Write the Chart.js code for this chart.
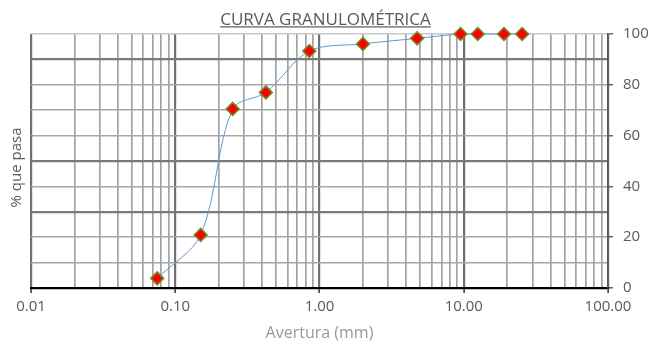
<!DOCTYPE html>
<html>
<head>
<meta charset="utf-8">
<title>Curva granulométrica</title>
<script src="https://cdn.jsdelivr.net/npm/chart.js@4.4.1/dist/chart.umd.min.js"></script>
<style>
  html, body { margin: 0; padding: 0; background: #ffffff; }
  #wrap { width: 654px; height: 344px; }
</style>
</head>
<body>
<div id="wrap"><canvas id="chart" width="654" height="344"></canvas></div>
<script>
// Sieve openings (mm) and cumulative percent passing
const sieveOpenings = [0.075, 0.15, 0.25, 0.425, 0.85, 2.0, 4.75, 9.5, 12.5, 19.0, 25.4];
const percentPassing = [3.8, 20.9, 70.5, 77.0, 93.3, 96.1, 98.3, 100, 100, 100, 100];

// Axis ranges and labelled ticks
const xDecades = [0.01, 0.1, 1, 10, 100];
const yLabelledTicks = [0, 20, 40, 60, 80, 100];
const yHeavyLines = [90, 50, 30];

const chartTitle = 'CURVA GRANULOMÉTRICA';
const xTitle = 'Avertura (mm)';
const yTitle = '% que pasa';

const FONT = "'Open Sans', 'Liberation Sans', sans-serif";

// Log-paper grid: every integer multiple within each decade
function logGridTicks() {
  const ticks = [];
  for (let d = 0; d < xDecades.length - 1; d++) {
    for (let m = 1; m < 10; m++) {
      ticks.push({ value: +(xDecades[d] * m).toPrecision(3) });
    }
  }
  ticks.push({ value: xDecades[xDecades.length - 1] });
  return ticks;
}
const isDecade = v => xDecades.some(d => Math.abs(d - v) < d * 1e-6);

// Underlined chart title and the rotated y-axis caption
const chartTexts = {
  id: 'chartTexts',
  afterDraw(chart) {
    const ctx = chart.ctx;
    const area = chart.chartArea;
    ctx.save();
    ctx.font = '17px ' + FONT;
    ctx.fillStyle = '#595959';
    ctx.textAlign = 'center';
    ctx.textBaseline = 'alphabetic';
    const cx = 325.5, by = 25;
    ctx.fillText(chartTitle, cx, by);
    const w = ctx.measureText(chartTitle).width;
    ctx.fillRect(cx - w / 2, by + 1.3, w, 1.2);

    ctx.translate(area.left - 14, (area.top + area.bottom) / 2 + 6.5);
    ctx.rotate(-Math.PI / 2);
    ctx.font = '15px ' + FONT;
    ctx.textBaseline = 'middle';
    ctx.fillText(yTitle, 0, 0);
    ctx.restore();
  }
};

new Chart(document.getElementById('chart'), {
  type: 'scatter',
  data: {
    datasets: [{
      data: sieveOpenings.map((x, i) => ({ x: x, y: percentPassing[i] })),
      showLine: true,
      borderColor: '#5B9BD5',
      borderWidth: 1,
      tension: 0.32,
      pointStyle: 'rectRot',
      pointRadius: 6.5,
      pointHoverRadius: 6.5,
      pointBackgroundColor: '#FF0000',
      pointBorderColor: '#6F8F2A',
      pointBorderWidth: 1.5,
      clip: false
    }]
  },
  options: {
    responsive: false,
    animation: false,
    events: [],
    layout: { padding: { top: 34, left: 31, right: 0, bottom: 0 } },
    plugins: {
      legend: { display: false },
      tooltip: { enabled: false },
      title: { display: false }
    },
    scales: {
      x: {
        type: 'logarithmic',
        position: 'bottom',
        min: 0.01,
        max: 100,
        afterBuildTicks: scale => { scale.ticks = logGridTicks(); },
        afterFit: scale => { scale.height = 56; },
        ticks: {
          autoSkip: false,
          maxRotation: 0,
          padding: 5,
          color: '#595959',
          font: { family: FONT, size: 15 },
          callback: v => isDecade(v) ? Number(v).toFixed(2) : ''
        },
        grid: {
          drawTicks: true,
          tickLength: 5,
          color: c => isDecade(c.tick.value) ? '#707070' : '#a3a3a3',
          lineWidth: c => isDecade(c.tick.value) ? 2.2 : 1.7,
          tickColor: c => isDecade(c.tick.value) ? '#000000' : 'rgba(0,0,0,0)',
          tickWidth: 1.2
        },
        border: { display: true, color: '#000000', width: 2.2 },
        title: {
          display: true,
          text: xTitle,
          color: '#999999',
          font: { family: FONT, size: 16 },
          padding: { top: 1, bottom: 1 }
        }
      },
      y: {
        position: 'right',
        min: 0,
        max: 100,
        afterBuildTicks: scale => {
          const t = [];
          for (let v = 0; v <= 100; v += 10) t.push({ value: v });
          scale.ticks = t;
        },
        afterFit: scale => { scale.width = 46; },
        ticks: {
          autoSkip: false,
          padding: 10,
          color: '#595959',
          font: { family: FONT, size: 15 },
          callback: v => yLabelledTicks.includes(v) ? String(v) : ''
        },
        grid: {
          drawTicks: true,
          tickLength: 5,
          color: c => yHeavyLines.includes(c.tick.value) ? '#7a7a7a'
                    : (c.tick.value === 100 ? '#c8c8c8' : '#a6a6a6'),
          lineWidth: c => yHeavyLines.includes(c.tick.value) ? 2.2 : 1.6,
          tickColor: c => yLabelledTicks.includes(c.tick.value) ? '#404040' : 'rgba(0,0,0,0)',
          tickWidth: 1.2
        },
        border: { display: true, color: '#595959', width: 1.5 }
      }
    }
  },
  plugins: [chartTexts]
});
</script>
</body>
</html>
